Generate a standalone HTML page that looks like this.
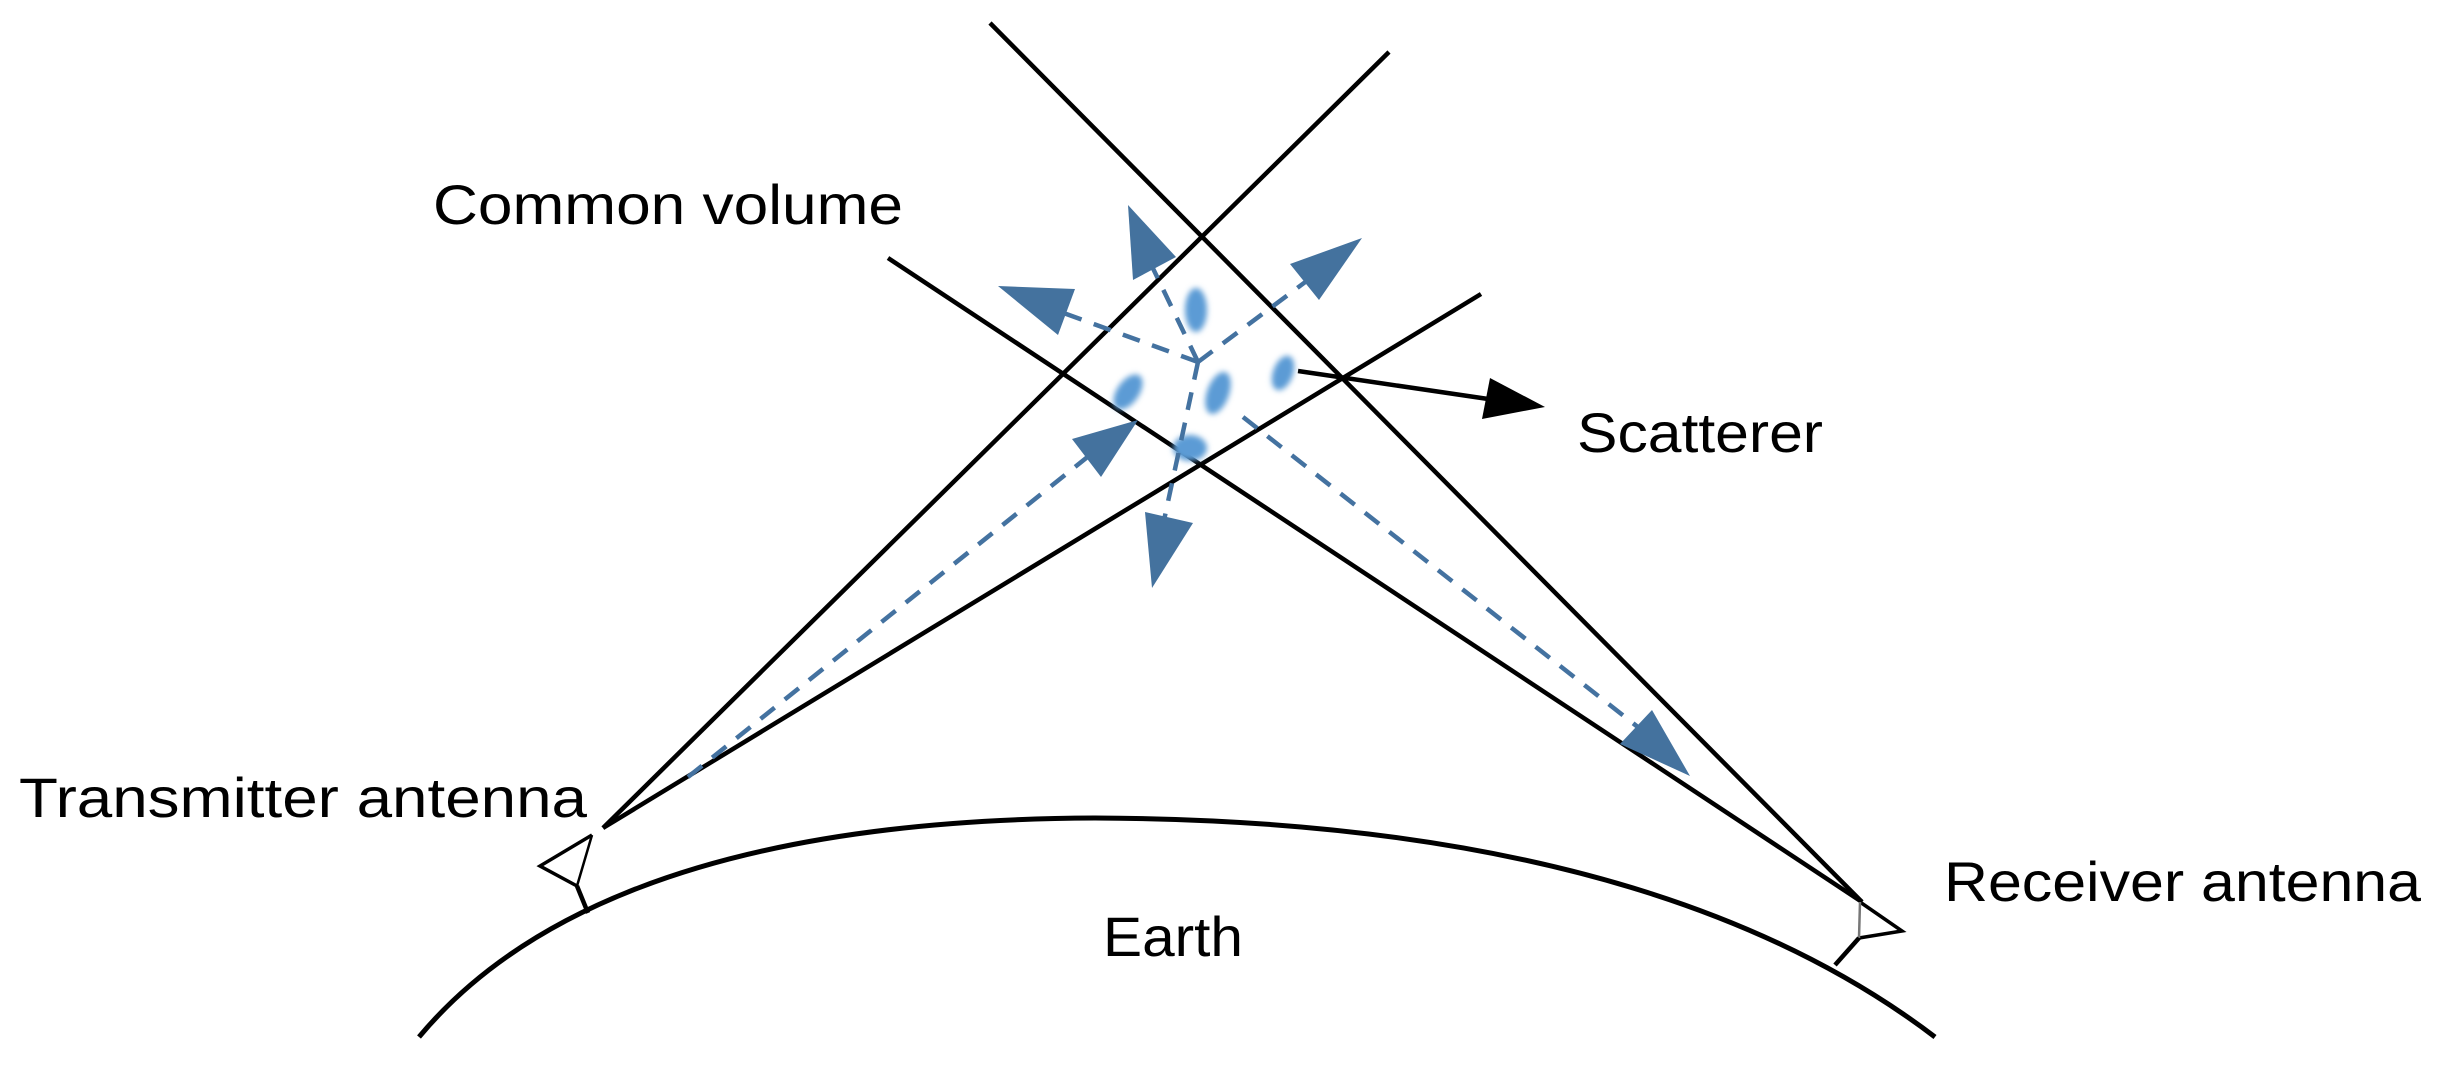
<!DOCTYPE html>
<html><head><meta charset="utf-8"><style>
html,body{margin:0;padding:0;background:#fff;}
svg{display:block;}
text{font-family:"Liberation Sans",sans-serif;font-size:56px;fill:#000;}
</style></head><body>
<svg width="2440" height="1073" viewBox="0 0 2440 1073" xmlns="http://www.w3.org/2000/svg">
<defs>
<filter id="bl" x="-1" y="-1" width="3" height="3"><feGaussianBlur stdDeviation="3"/></filter>
</defs>
<g stroke="#000" stroke-width="4.5" fill="none">
<line x1="990" y1="23" x2="1862" y2="902"/>
<line x1="603" y1="828" x2="1389" y2="52"/>
<line x1="888" y1="258" x2="1862" y2="902"/>
<line x1="603" y1="828" x2="1481" y2="294"/>
<path d="M419 1037 Q 600 820 1095 818 Q 1650 820 1935 1037" stroke-width="5"/>
</g>
<g stroke="#000" stroke-width="3.5" fill="none" stroke-linejoin="miter">
<polyline points="592,835 540,866 577,886"/>
<line x1="592" y1="835" x2="577" y2="886" stroke-width="2.5"/>
<line x1="577" y1="886" x2="588" y2="913" stroke-width="4.5"/>
<polyline points="1860,902 1902,931 1859,938"/>
<line x1="1860" y1="902" x2="1859" y2="938" stroke="#777" stroke-width="2.5"/>
<line x1="1859" y1="938" x2="1835" y2="965" stroke-width="4.5"/>
</g>
<line x1="1298" y1="371" x2="1495" y2="400" stroke="#000" stroke-width="4.5"/>
<polygon points="1545,407 1490,378 1482,419" fill="#000"/>
<g fill="#5b9bd5">
<ellipse cx="1196" cy="310" rx="11" ry="22" filter="url(#bl)"/>
<ellipse cx="1128" cy="392" rx="11" ry="20" transform="rotate(35 1128 392)" filter="url(#bl)"/>
<ellipse cx="1218" cy="393" rx="11" ry="22" transform="rotate(20 1218 393)" filter="url(#bl)"/>
<ellipse cx="1283" cy="373" rx="10" ry="18" transform="rotate(20 1283 373)" filter="url(#bl)"/>
<ellipse cx="1190" cy="448" rx="17" ry="13" filter="url(#bl)"/>
</g>
<g stroke="#4472a0" stroke-width="4.5" stroke-dasharray="18,13" fill="none">
<line x1="1198" y1="362" x2="1148" y2="258"/>
<line x1="1198" y1="362" x2="1050" y2="308"/>
<line x1="1198" y1="362" x2="1312" y2="277"/>
<line x1="1198" y1="362" x2="1163" y2="525"/>
<line x1="688" y1="777" x2="1090" y2="455"/>
<line x1="1243" y1="417" x2="1648" y2="735"/>
</g>
<g fill="#44729e">
<polygon points="1128,205 1133,280 1176,257"/>
<polygon points="998,286 1075,289 1058,335"/>
<polygon points="1362,238 1290,264 1319,300"/>
<polygon points="1152,588 1145,512 1193,523"/>
<polygon points="1138,420 1072,439 1101,477"/>
<polygon points="1690,776 1620,744 1652,710"/>
</g>
<text x="433" y="224" textLength="470" lengthAdjust="spacingAndGlyphs">Common volume</text>
<text x="1577" y="452" textLength="246" lengthAdjust="spacingAndGlyphs">Scatterer</text>
<text x="19" y="817" textLength="568" lengthAdjust="spacingAndGlyphs">Transmitter antenna</text>
<text x="1944" y="901" textLength="477" lengthAdjust="spacingAndGlyphs">Receiver antenna</text>
<text x="1103" y="956" textLength="140" lengthAdjust="spacingAndGlyphs">Earth</text>
</svg>
</body></html>
